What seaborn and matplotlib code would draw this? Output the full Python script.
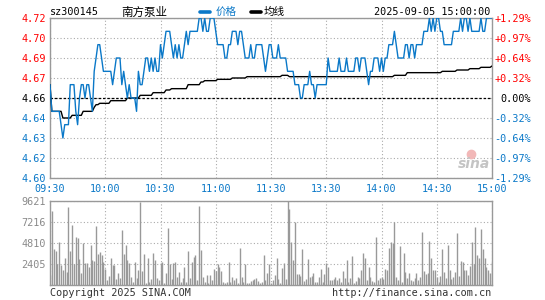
import numpy as np
import pandas as pd
import matplotlib
matplotlib.use("Agg")
import matplotlib.pyplot as plt
from matplotlib.lines import Line2D
import seaborn as sns

# --- chart data ---
stock_code = "sz300145"
stock_name = "南方泵业"
stamp = "2025-09-05 15:00:00"
pre_close = 4.66

# one price per minute, 09:30 .. 11:30 then 13:00 .. 15:00 (241 points)
price = [
    4.67, 4.65, 4.65, 4.65, 4.65, 4.65, 4.64, 4.63, 4.64, 4.64,
    4.64, 4.67, 4.67, 4.67, 4.65, 4.64, 4.66, 4.67, 4.67, 4.66,
    4.67, 4.67, 4.66, 4.65, 4.68, 4.69, 4.70, 4.70, 4.69, 4.68,
    4.68, 4.68, 4.68, 4.68, 4.67, 4.68, 4.69, 4.69, 4.69, 4.67,
    4.68, 4.67, 4.66, 4.67, 4.66, 4.66, 4.66, 4.65, 4.68, 4.67,
    4.67, 4.68, 4.69, 4.69, 4.68, 4.69, 4.68, 4.69, 4.68, 4.68,
    4.70, 4.69, 4.70, 4.71, 4.71, 4.71, 4.70, 4.69, 4.70, 4.69,
    4.70, 4.69, 4.69, 4.70, 4.71, 4.70, 4.71, 4.71, 4.71, 4.71,
    4.71, 4.72, 4.72, 4.71, 4.72, 4.71, 4.71, 4.72, 4.72, 4.72,
    4.71, 4.70, 4.70, 4.70, 4.70, 4.69, 4.69, 4.70, 4.70, 4.71,
    4.71, 4.71, 4.70, 4.71, 4.71, 4.70, 4.69, 4.69, 4.69, 4.70,
    4.69, 4.69, 4.70, 4.70, 4.70, 4.70, 4.69, 4.68, 4.69, 4.70,
    4.70, 4.69, 4.69, 4.69, 4.70, 4.69, 4.69, 4.69, 4.69, 4.68,
    4.68, 4.68, 4.68, 4.67, 4.67, 4.67, 4.66, 4.66, 4.67, 4.67,
    4.67, 4.68, 4.67, 4.67, 4.66, 4.67, 4.67, 4.67, 4.67, 4.67,
    4.67, 4.69, 4.68, 4.68, 4.68, 4.68, 4.68, 4.69, 4.68, 4.68,
    4.68, 4.69, 4.68, 4.68, 4.68, 4.68, 4.69, 4.69, 4.68, 4.69,
    4.69, 4.69, 4.68, 4.67, 4.68, 4.68, 4.69, 4.69, 4.69, 4.68,
    4.69, 4.68, 4.69, 4.69, 4.70, 4.70, 4.70, 4.71, 4.70, 4.69,
    4.69, 4.69, 4.69, 4.70, 4.70, 4.69, 4.70, 4.70, 4.69, 4.70,
    4.70, 4.70, 4.70, 4.71, 4.71, 4.71, 4.72, 4.71, 4.72, 4.71,
    4.72, 4.72, 4.71, 4.71, 4.70, 4.70, 4.70, 4.70, 4.70, 4.71,
    4.71, 4.71, 4.71, 4.72, 4.71, 4.72, 4.72, 4.71, 4.72, 4.71,
    4.71, 4.71, 4.71, 4.71, 4.72, 4.71, 4.71, 4.72, 4.72, 4.72,
    4.72,
]

# average price line
avg = [
    4.670, 4.650, 4.650, 4.650, 4.650, 4.650, 4.650, 4.645, 4.645, 4.645,
    4.645, 4.645, 4.647, 4.647, 4.647, 4.647, 4.647, 4.647, 4.650, 4.650,
    4.650, 4.650, 4.650, 4.650, 4.653, 4.655, 4.655, 4.656, 4.656, 4.656,
    4.656, 4.656, 4.656, 4.658, 4.658, 4.658, 4.658, 4.658, 4.658, 4.658,
    4.658, 4.658, 4.660, 4.660, 4.660, 4.660, 4.660, 4.660, 4.660, 4.662,
    4.662, 4.662, 4.662, 4.662, 4.662, 4.662, 4.664, 4.664, 4.664, 4.664,
    4.664, 4.664, 4.664, 4.666, 4.666, 4.666, 4.667, 4.667, 4.667, 4.667,
    4.667, 4.667, 4.667, 4.667, 4.667, 4.670, 4.670, 4.670, 4.670, 4.670,
    4.670, 4.670, 4.672, 4.672, 4.673, 4.673, 4.673, 4.673, 4.673, 4.673,
    4.673, 4.674, 4.674, 4.674, 4.674, 4.674, 4.674, 4.674, 4.674, 4.675,
    4.675, 4.675, 4.675, 4.675, 4.675, 4.675, 4.675, 4.676, 4.676, 4.676,
    4.676, 4.676, 4.676, 4.676, 4.676, 4.676, 4.676, 4.676, 4.676, 4.676,
    4.676, 4.676, 4.676, 4.676, 4.676, 4.676, 4.677, 4.677, 4.677, 4.677,
    4.676, 4.676, 4.676, 4.676, 4.676, 4.676, 4.676, 4.676, 4.676, 4.676,
    4.676, 4.676, 4.676, 4.676, 4.676, 4.676, 4.676, 4.676, 4.676, 4.676,
    4.676, 4.676, 4.676, 4.676, 4.676, 4.676, 4.676, 4.676, 4.676, 4.676,
    4.676, 4.676, 4.676, 4.676, 4.676, 4.676, 4.676, 4.676, 4.676, 4.676,
    4.676, 4.676, 4.676, 4.676, 4.676, 4.676, 4.676, 4.676, 4.676, 4.676,
    4.676, 4.676, 4.676, 4.676, 4.676, 4.676, 4.676, 4.677, 4.677, 4.677,
    4.677, 4.677, 4.677, 4.677, 4.679, 4.679, 4.679, 4.679, 4.679, 4.679,
    4.679, 4.679, 4.679, 4.679, 4.679, 4.679, 4.679, 4.679, 4.679, 4.679,
    4.679, 4.679, 4.679, 4.680, 4.680, 4.680, 4.680, 4.680, 4.680, 4.680,
    4.680, 4.681, 4.681, 4.681, 4.681, 4.681, 4.681, 4.681, 4.682, 4.682,
    4.682, 4.682, 4.682, 4.682, 4.683, 4.683, 4.683, 4.683, 4.683, 4.683,
    4.684,
]

# volume per minute (lots)
volume = [
    1145, 8514, 4123, 3894, 2405, 4887, 2291, 1718, 3054, 1527,
    8972, 3894, 6872, 2405, 5460, 5345, 2977, 1413, 4772, 2483,
    2558, 2100, 4620, 2863, 2790, 6720, 3550, 3780, 3436, 2672,
    1795, 573, 1030, 3054, 2290, 2290, 650, 1336, 763, 6299,
    3550, 4580, 2863, 2482, 955, 382, 2672, 763, 1718, 9480,
    1642, 3550, 190, 3054, 382, 650, 3665, 2863, 763, 573,
    2558, 2672, 190, 1336, 6490, 2405, 650, 2558, 2672, 955,
    1527, 382, 763, 2100, 382, 3894, 763, 2672, 3168, 3436,
    573, 9010, 4009, 878, 382, 1145, 190, 1145, 573, 1795,
    1642, 2405, 2024, 1642, 382, 267, 382, 2672, 382, 878,
    573, 763, 267, 4200, 878, 382, 2405, 190, 267, 458,
    573, 650, 763, 497, 267, 382, 3436, 573, 1336, 2405,
    267, 573, 1145, 3054, 650,
    190, 1909, 2482, 650, 9621, 8705, 4963, 2863, 7178, 1260,
    1260, 1030, 4085, 496, 650, 2940, 878, 1030, 1336, 382,
    382, 955, 1795, 382, 1260, 2482, 2100, 573, 573, 650,
    878, 573, 764, 382, 1642, 764, 2863, 382, 764, 3322,
    267, 496, 878, 764, 1718, 3627, 3054, 573, 2100, 955,
    496, 382, 5536, 573, 764, 878, 650, 1795, 1718, 4200,
    4963, 4772, 7254, 878, 573, 4467, 382, 3627, 1527, 764,
    1336, 573, 496, 764, 1413, 573, 878, 6109, 1642, 1260,
    1336, 5078, 3054, 1718, 1718, 878, 382, 1030, 4085, 1527,
    764, 4582, 1718, 650, 878, 1527, 5994, 1030, 2787, 2672,
    1718, 1718, 1145, 2176, 4887, 2405, 6605, 3436, 3054, 6376,
    4085, 3054, 2100, 1718, 1336, 2672,
]

time_labels = ["09:30", "10:00", "10:30", "11:00", "11:30",
               "13:30", "14:00", "14:30", "15:00"]
price_labels = ["4.60", "4.62", "4.63", "4.64", "4.66",
                "4.67", "4.69", "4.70", "4.72"]
pct_labels = ["-1.29%", "-0.97%", "-0.64%", "-0.32%", "0.00%",
              "+0.32%", "+0.64%", "+0.97%", "+1.29%"]
vol_labels = ["2405", "4810", "7216", "9621"]
vol_max = 9621

BLUE = "#0a78c8"
RED = "#ff0000"
GRID = "#aaaaaa"
FRAME = "#999999"

sns.set_theme(style="white")
plt.rcParams["font.family"] = ["DejaVu Sans Mono", "Noto Sans CJK SC"]
CJK = ["Noto Sans CJK SC", "DejaVu Sans"]

W, H = 545, 300
fig = plt.figure(figsize=(W / 100, H / 100), dpi=100)
fig.patch.set_facecolor("white")


def box(l, t, r, b):
    return [l / W, 1 - b / H, (r - l) / W, (b - t) / H]


def px(x, y):
    return x / W, 1 - y / H


n = len(price)
df = pd.DataFrame({"minute": np.arange(n), "price": price, "avg": avg[:n]})

# ---------- price panel ----------
ax = fig.add_axes(box(50, 18, 492, 178))
lo, hi = 4.60, 4.72
ticks_y = np.linspace(lo, hi, 9)
ticks_x = np.arange(0, 241, 30)

ax.set_xlim(0, 240)
ax.set_ylim(lo, hi)
ax.set_xticks(ticks_x)
ax.set_xticklabels(time_labels)
ax.set_yticks(ticks_y)
ax.set_yticklabels(price_labels)
ax.grid(True, ls=(0, (1, 2)), color=GRID, lw=0.8)
ax.axhline(pre_close, color="black", lw=0.9, ls=(0, (2, 1.5)), zorder=2)

sns.lineplot(data=df, x="minute", y="avg", ax=ax, color="black", lw=1.0, zorder=3)
sns.lineplot(data=df, x="minute", y="price", ax=ax, color=BLUE, lw=1.0, zorder=4)
ax.set_xlabel("")
ax.set_ylabel("")

ax.tick_params(axis="both", length=0, labelsize=7.3)
ax.tick_params(axis="x", pad=4, colors=BLUE)
ax.tick_params(axis="y", pad=3)
for lab, v in zip(ax.get_yticklabels(), ticks_y):
    lab.set_color(RED if v > pre_close + 1e-9 else ("black" if abs(v - pre_close) < 1e-9 else BLUE))
for s in ax.spines.values():
    s.set_color(FRAME)
    s.set_linewidth(1.0)

axr = ax.twinx()
axr.set_ylim(lo, hi)
axr.set_yticks(ticks_y)
axr.set_yticklabels(pct_labels)
axr.grid(False)
axr.tick_params(axis="y", length=0, labelsize=7.3, pad=28)
for lab, v in zip(axr.get_yticklabels(), ticks_y):
    lab.set_ha("right")
    lab.set_color(RED if v > pre_close + 1e-9 else ("black" if abs(v - pre_close) < 1e-9 else BLUE))
for s in axr.spines.values():
    s.set_visible(False)

# ---------- volume panel ----------
axv = fig.add_axes(box(50, 201, 492, 285))
axv.vlines(np.arange(len(volume)), 0, volume, color="#999999", lw=1.0)
axv.set_xlim(0, 240)
axv.set_ylim(0, vol_max)
axv.set_xticks(ticks_x)
axv.set_xticklabels([])
axv.set_yticks([2405, 4810, 7216, 9621])
axv.set_yticklabels(vol_labels)
axv.grid(True, ls=(0, (1, 2)), color=GRID, lw=0.8)
axv.set_axisbelow(True)
axv.tick_params(axis="both", length=0, labelsize=7.3, pad=3, colors="#8a8a8a")
for s in axv.spines.values():
    s.set_color(FRAME)
    s.set_linewidth(1.0)

# ---------- header / footer ----------
fig.text(*px(50, 12), stock_code, fontsize=7.3, va="center", ha="left", color="black")
fig.text(*px(121, 12), stock_name, family=CJK, fontsize=8.3, va="center", ha="left", color="black")
fig.add_artist(Line2D([200 / W, 210 / W], [1 - 12 / H] * 2, color=BLUE, lw=2.6,
                      transform=fig.transFigure))
fig.text(*px(216, 12), "价格", family=CJK, fontsize=7.6, va="center", ha="left", color=BLUE)
fig.add_artist(Line2D([251 / W, 261 / W], [1 - 12 / H] * 2, color="black", lw=2.6,
                      transform=fig.transFigure))
fig.text(*px(264, 12), "均线", family=CJK, fontsize=7.6, va="center", ha="left", color="black")
fig.text(*px(490, 12), stamp, fontsize=7.3, va="center", ha="right", color="black")

fig.text(*px(50, 293), "Copyright 2025 SINA.COM", fontsize=7.3, va="center", ha="left", color="#333333")
fig.text(*px(491, 293), "http://finance.sina.com.cn", fontsize=7.3, va="center", ha="right", color="#333333")

# sina watermark
fig.add_artist(Line2D([471 / W], [1 - 154 / H], marker="o", ms=6, color="#f2b8b8",
                      transform=fig.transFigure))
fig.text(*px(474, 164), "sina", family="DejaVu Sans", style="italic", weight="bold",
         fontsize=10, color="#c4c4c4", va="center", ha="center")

fig.savefig("out.png", dpi=100, facecolor="white")
